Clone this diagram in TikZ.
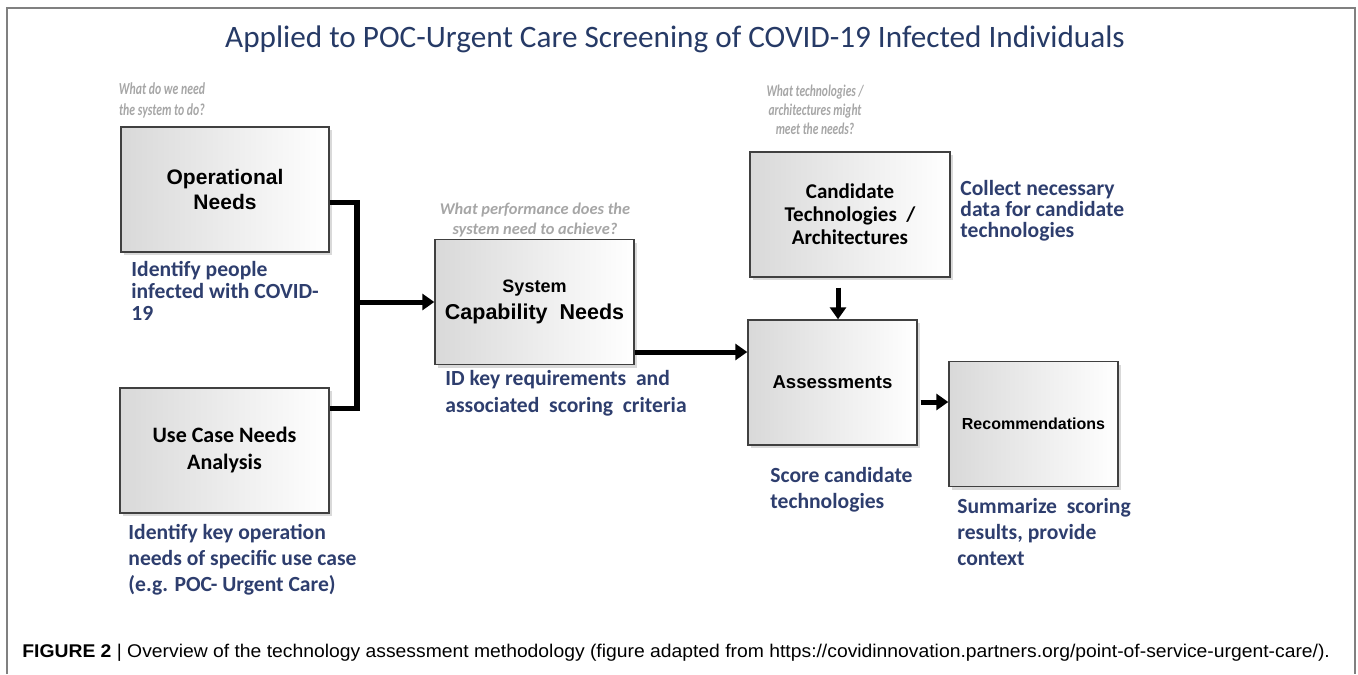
\documentclass[tikz,border=0pt]{standalone}
\usepackage{fontspec}
\setmainfont{Carlito}
\newfontfamily\arialfont{Liberation Sans}
\newfontfamily\narrowfont{Carlito}[FakeStretch=0.7]
\newfontfamily\captionfont{Liberation Sans}[FakeStretch=1.05]
\usetikzlibrary{arrows.meta,shadows}

\definecolor{titleblue}{RGB}{38,58,102}
\definecolor{noteblue}{RGB}{46,62,110}
\definecolor{askgrey}{RGB}{166,166,166}
\definecolor{framegrey}{RGB}{128,128,128}

\begin{document}
\begin{tikzpicture}[x=0.5pt,y=-0.5pt,
        box/.style={draw=black!75,line width=0.7pt,
            left color=black!15,middle color=white,right color=white,
            drop shadow={shadow xshift=1.5pt,shadow yshift=-1.5pt,opacity=0.3},
            align=center,inner sep=2pt,minimum height=62.5pt},
        note/.style={text=noteblue,font=\bfseries\fontsize{10.8}{11}\selectfont,
            align=left,inner sep=0pt,anchor=base west},
        ask/.style={text=askgrey,align=center,inner sep=0pt,anchor=base},
        link/.style={line width=2.8pt},
        arrow/.style={line width=2.5pt,-{Triangle[length=6pt,width=8pt]}}
    ]
        \useasboundingbox (0,0) rectangle (1358,674);
        \draw[framegrey,line width=1pt] (7,674) -- (7,8) -- (1355,8) -- (1355,674);

        % Title
        \node[text=titleblue,font=\fontsize{15.6}{17}\selectfont,anchor=base,inner sep=0pt]
            (title) at (675,48) {Applied to POC-Urgent Care Screening of COVID-19 Infected Individuals};

        % Define the boxes
        \node[box,minimum width=104pt,font=\arialfont\bfseries\fontsize{10.5}{12.5}\selectfont]
            (ops) at (225,189.5) {Operational\\Needs};
        \node[box,minimum width=104.5pt,font=\bfseries\fontsize{11}{13.5}\selectfont]
            (usecase) at (224.5,450.5) {Use Case Needs\\Analysis};
        \node[box,minimum width=99.5pt,font=\arialfont\bfseries\fontsize{10.75}{13.5}\selectfont]
            (sys) at (534.5,302) {{\fontsize{9}{13.5}\selectfont System}\\Capability\ \ Needs};
        \node[box,minimum width=100pt,font=\bfseries\fontsize{10.5}{11.5}\selectfont]
            (cand) at (850,214.5) {Candidate\\Technologies\ \ /\\Architectures};
        \node[box,minimum width=84.5pt,font=\arialfont\bfseries\fontsize{9.3}{11}\selectfont]
            (assess) at (832.5,382.5) {Assessments};
        \node[box,minimum width=84.5pt,font=\arialfont\bfseries\fontsize{8}{10}\selectfont]
            (rec) at (1033.5,424) {Recommendations};

        % Questions above the boxes (base = last line)
        \node[ask,font=\narrowfont\bfseries\itshape\fontsize{8.4}{10.5}\selectfont]
            (askops) at (162,116) {What do we need\\the system to do?};
        \node[ask,font=\bfseries\itshape\fontsize{8.2}{10}\selectfont]
            (asksys) at (535,234) {What performance does the\\system need to achieve?};
        \node[ask,font=\narrowfont\bfseries\itshape\fontsize{8.2}{9.5}\selectfont]
            (askcand) at (815,134) {What technologies /\\architectures might\\meet the needs?};

        % Notes under the boxes (base = last line)
        \node[note] (opsnote) at (131,320) {Identify people\\infected with COVID-\\19};
        \node[note,font=\bfseries\fontsize{10.8}{13}\selectfont]
            (usenote) at (128,591) {Identify key operation\\needs of specific use case\\(e.g. POC- Urgent Care)};
        \node[note,font=\bfseries\fontsize{10.8}{13.5}\selectfont]
            (sysnote) at (445,412) {ID key requirements\ \ and\\associated\ \ scoring\ \ criteria};
        \node[note,font=\bfseries\fontsize{10.8}{10.5}\selectfont]
            (candnote) at (960,237) {Collect necessary\\data for candidate\\technologies};
        \node[note,font=\bfseries\fontsize{10.8}{13}\selectfont]
            (assessnote) at (770,508) {Score candidate\\technologies};
        \node[note,font=\bfseries\fontsize{10.8}{13}\selectfont]
            (recnote) at (957,565) {Summarize\ \ scoring\\results,\ provide\\context};

        % Connectors
        \coordinate (merge) at (357,302);
        \draw[link] ([yshift=-6.5pt]ops.east) -| (merge) |- ([yshift=21pt]usecase.east);
        \draw[arrow] (merge) -- (sys.west);
        \coordinate (s1) at ([yshift=-25pt]sys.east);
        \draw[arrow] (s1) -- (s1 -| assess.west);
        \coordinate (c1) at ([xshift=-6pt]cand.south);
        \draw[arrow,shorten <=5pt] (c1) -- (c1 |- assess.north);
        \coordinate (a1) at ([yshift=-9.75pt]assess.east);
        \draw[arrow,shorten <=1.5pt] (a1) -- (a1 -| rec.west);

        % Caption
        \node[font=\captionfont\fontsize{9.2}{10}\selectfont,anchor=base west,inner sep=0pt]
            (caption) at (22,657) {\textbf{FIGURE 2} | Overview of the technology assessment methodology (figure adapted from https://covidinnovation.partners.org/point-of-service-urgent-care/).};
    \end{tikzpicture}
\end{document}
